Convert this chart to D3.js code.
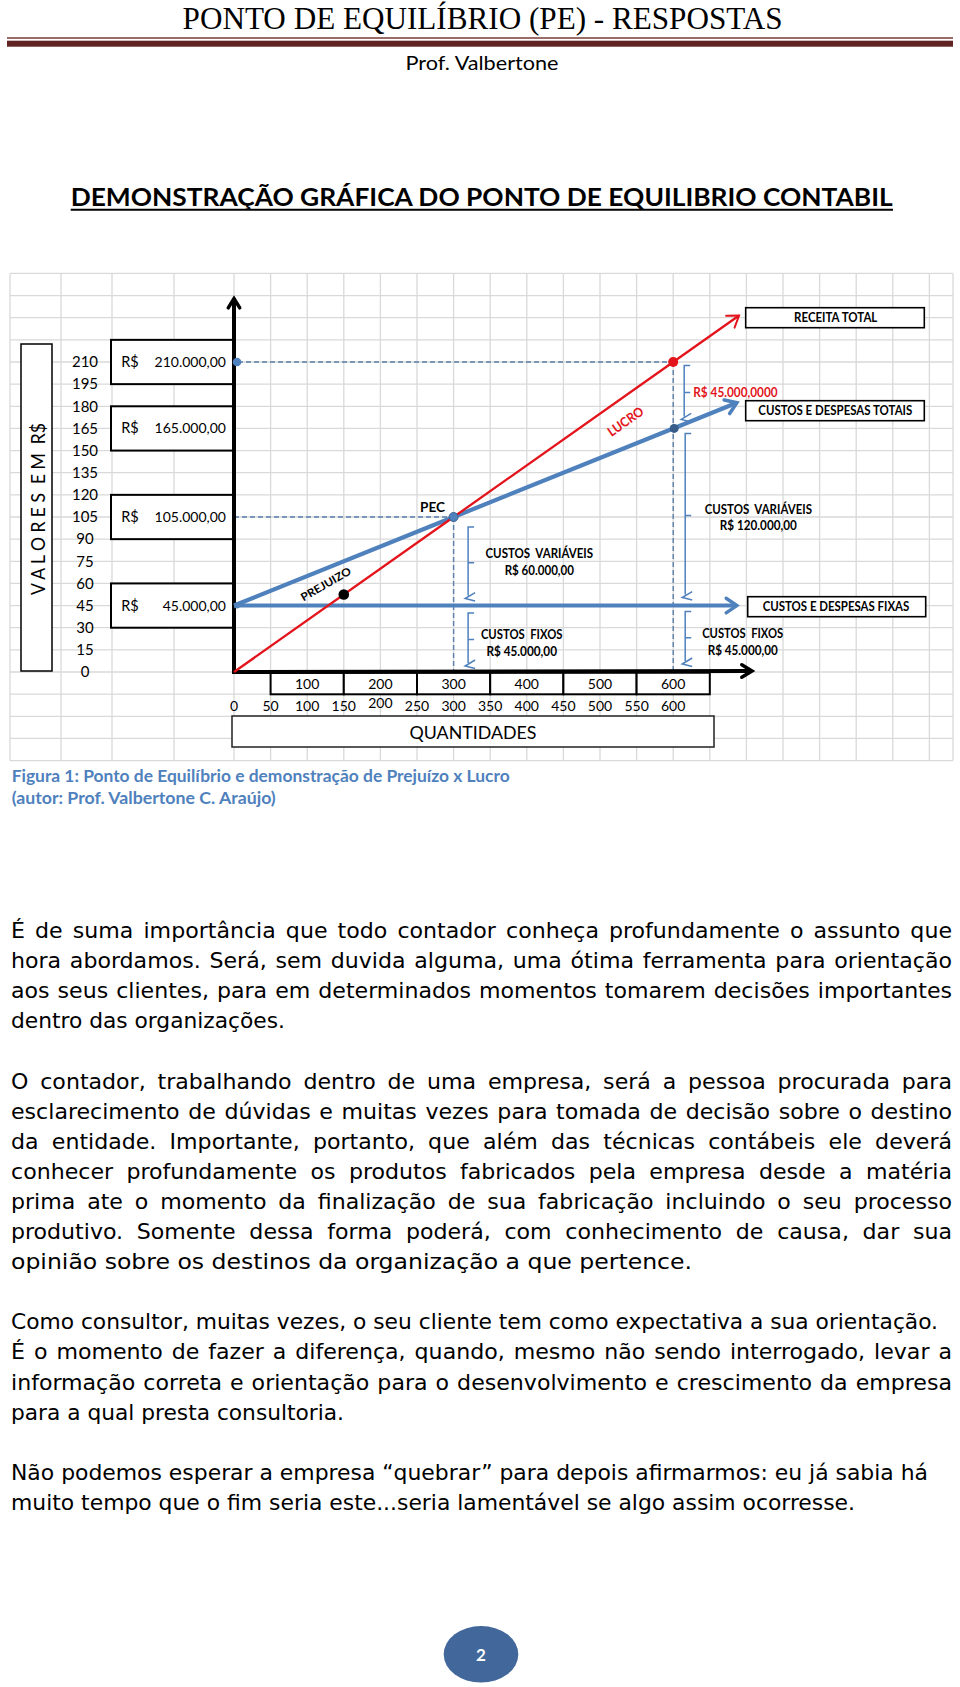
<!DOCTYPE html>
<html><head><meta charset="utf-8">
<script src="https://cdn.jsdelivr.net/npm/d3@7"></script>
<style>html,body{margin:0;padding:0;background:#fff;}svg{display:block}text{white-space:pre}</style>
</head><body><svg id="c" width="960" height="1687"></svg>
<script>
// ---------------- DATA ----------------
const valueTicks = [210,195,180,165,150,135,120,105,90,75,60,45,30,15,0];
const valueBoxes = [210,165,105,45];
const valueBoxLabels = ["210.000,00","165.000,00","105.000,00","45.000,00"];
const quantityTicks = [0,50,100,150,200,250,300,350,400,450,500,550,600];
const quantityBoxes = [100,200,300,400,500,600];
const revenueLine = [[0,0],[300,105],[600,210],[690,241.5]];
const totalCostLine = [[0,45],[300,105],[600,165],[687,182.4]];
const fixedCostLine = [[0,45],[300,45],[600,45],[687,45]];
const pecPoint = [300,105];
const revenuePoint = [600,210];
const totalCostPoint = [600,165];
const lossPoint = [150,52.5];
const axisDots = [[0,210],[0,45]];

const title = "PONTO DE EQUILÍBRIO (PE) - RESPOSTAS";
const author = "Prof. Valbertone";
const heading = "DEMONSTRAÇÃO GRÁFICA DO PONTO DE EQUILIBRIO CONTABIL";
const yTitle = "V A L O R E S  E M  R$";
const xTitle = "QUANTIDADES";
const caption = ["Figura 1: Ponto de Equilíbrio e demonstração de Prejuízo x Lucro","(autor: Prof. Valbertone C. Araújo)"];

const paragraph1 = [
 ["É de suma importância que todo contador conheça profundamente o assunto que","j"],
 ["hora abordamos. Será, sem duvida alguma, uma ótima ferramenta para orientação","j"],
 ["aos seus clientes, para em determinados momentos tomarem decisões importantes","j"],
 ["dentro das organizações.",274]];
const paragraph2 = [
 ["O contador, trabalhando dentro de uma empresa, será a pessoa procurada para","j"],
 ["esclarecimento de dúvidas e muitas vezes para tomada de decisão sobre o destino","j"],
 ["da entidade. Importante, portanto, que além das técnicas contábeis ele deverá","j"],
 ["conhecer profundamente os produtos fabricados pela empresa desde a matéria","j"],
 ["prima ate o momento da finalização de sua fabricação incluindo o seu processo","j"],
 ["produtivo. Somente dessa forma poderá, com conhecimento de causa, dar sua","j"],
 ["opinião sobre os destinos da organização a que pertence.",681]];
const paragraph3 = [
 ["Como consultor, muitas vezes, o seu cliente tem como expectativa a sua orientação.",927],
 ["É o momento de fazer a diferença, quando, mesmo não sendo interrogado, levar a","j"],
 ["informação correta e orientação para o desenvolvimento e crescimento da empresa","j"],
 ["para a qual presta consultoria.",333]];
const paragraph4 = [
 ["Não podemos esperar a empresa “quebrar” para depois afirmarmos: eu já sabia há",917],
 ["muito tempo que o fim seria este...seria lamentável se algo assim ocorresse.",844]];

// ---------------- SETUP ----------------
const svg = d3.select('#c');
const x = d3.scaleLinear().domain([0,600]).range([234,673.2]);
const y = d3.scaleLinear().domain([0,210]).range([672,362]);
const BLUE = "#4f81bd", RED = "#e3141b", GRID = "#d9d9d9";

function T(s, px, py, o={}) {
  const t = svg.append('text').attr('x',px).attr('y',py).text(s)
    .style('font-family', o.ff || 'Lato, sans-serif')
    .style('font-size', (o.fs||14)+'px')
    .style('font-weight', o.fw||400)
    .attr('fill', o.fill||'#000')
    .attr('text-anchor', o.a||'start');
  if (o.stretch) t.style('font-stretch', o.stretch);
  if (o.w) t.attr('textLength', o.w).attr('lengthAdjust', o.adj||'spacingAndGlyphs');
  if (o.rot) t.attr('transform', `rotate(${o.rot},${o.cx??px},${o.cy??py})`);
  return t;
}
function L(x1,y1,x2,y2,stroke,w,extra){
  const l = svg.append('line').attr('x1',x1).attr('y1',y1).attr('x2',x2).attr('y2',y2)
    .attr('stroke',stroke).attr('stroke-width',w);
  if(extra) extra(l);
  return l;
}
function R(x0,y0,w,h,stroke,sw){
  return svg.append('rect').attr('x',x0).attr('y',y0).attr('width',w).attr('height',h)
    .attr('fill','#fff').attr('stroke',stroke).attr('stroke-width',sw);
}
function arrowHead(px,py,ang,len,spread,stroke,w){
  const a1 = ang+Math.PI-spread, a2 = ang+Math.PI+spread;
  svg.append('path')
    .attr('d',`M${px+len*Math.cos(a1)},${py+len*Math.sin(a1)}L${px},${py}L${px+len*Math.cos(a2)},${py+len*Math.sin(a2)}`)
    .attr('fill','none').attr('stroke',stroke).attr('stroke-width',w)
    .attr('stroke-linecap','round').attr('stroke-linejoin','miter');
}

// ---------------- HEADER ----------------
T(title, 482.6, 29.3, {ff:'"Liberation Serif", serif', fs:32, a:'middle', w:600});
L(7,38,953,38,"#7a3a38",1.5);
svg.append('rect').attr('x',7).attr('y',40.7).attr('width',946).attr('height',6).attr('fill','#622423');
T(author, 482, 69.5, {fs:20, a:'middle', w:153});
T(heading, 70.7, 206, {fs:24.5, fw:700, w:822});
L(70.7,209.8,893,209.8,"#000",2);

// ---------------- GRID ----------------
const gTop = y(270), gBot = y(-60);
d3.range(-60,271,15).forEach(v => L(10,y(v),953,y(v),GRID,1.3));
const colX = [10,61,112,174].concat(d3.range(0,951,50).map(q=>x(q))).concat([953]);
colX.forEach(cx => L(cx,gTop,cx,gBot,GRID,1.3));

// ---------------- Y TITLE ----------------
R(21,344,31,327,"#000",1.5);
T(yTitle, 44.5, 509, {fs:19, a:'middle', w:172, rot:-90});

// y tick labels
valueTicks.forEach(v => T(String(v), 85, y(v)+5.3, {fs:15, a:'middle'}));

// value boxes
valueBoxes.forEach((v,i) => {
  R(111, y(v+15), 122, y(v-15)-y(v+15), "#000", 2);
  T("R$", 130, y(v)+5, {fs:14.5, a:'middle'});
  T(valueBoxLabels[i], 226, y(v)+5, {fs:14, a:'end'});
});

// ---------------- DASHED GUIDES ----------------
const dash = l => l.attr('stroke-dasharray','5,3');
L(x(0)+4,y(210),x(600),y(210),"#5a7fab",1.4,dash);
L(x(0),y(105),x(300),y(105),"#5a7fab",1.4,dash);
L(x(300),y(105),x(300),y(0),"#5a7fab",1.4,dash);
L(x(600),y(210),x(600),y(0),"#5a7fab",1.4,dash);

// ---------------- QUANTITY BOXES ----------------
quantityBoxes.forEach(q => {
  R(x(q-50), 672.7, x(q+50)-x(q-50), 21.6, "#000", 2);
  T(String(q), x(q), 688.5, {fs:14, a:'middle'});
});
quantityTicks.forEach(q => T(String(q), x(q), q===200?708:710.5, {fs:14, a:'middle'}));
R(232,716,482,31,"#222",1.5);
T(xTitle, 473, 739, {fs:18, a:'middle', w:127});

// ---------------- AXES ----------------
L(x(0),y(0)+2,x(0),298.5,"#000",4);
arrowHead(x(0),298.5,-Math.PI/2,11,0.55,"#000",3.5);
L(x(0)-2,y(0),752,y(0)-1,"#000",4);
arrowHead(752,y(0)-1,0,12,0.55,"#000",3.5);

// ---------------- BRACKETS ----------------
const brackets = [
  {q:300, top:105, bottom:45, dx:14.5, pt:10, pb:7},
  {q:300, top:45, bottom:0, dx:14.5, pt:7.5, pb:6},
  {q:600, top:210, bottom:165, dx:11, pt:3.5, pb:9},
  {q:600, top:165, bottom:45, dx:12, pt:5, pb:8},
  {q:600, top:45, bottom:0, dx:12, pt:6, pb:8}
];
brackets.forEach(b => {
  const bx = x(b.q)+b.dx, t = y(b.top)+b.pt, bt = y(b.bottom)-b.pb, m=(t+bt)/2;
  svg.append('path')
    .attr('d',`M${bx+6},${t}L${bx},${t}L${bx},${bt-3}M${bx},${m}L${bx+6},${m}M${bx+7},${bt-6}L${bx-3},${bt}L${bx+7},${bt+2.5}`)
    .attr('fill','none').attr('stroke',BLUE).attr('stroke-width',1.5);
});

// ---------------- LINES ----------------
const line = d3.line().x(d=>x(d[0])).y(d=>y(d[1]));
function drawLine(data, color, w, arrowLen){
  svg.append('path').datum(data).attr('d',line).attr('fill','none')
    .attr('stroke',color).attr('stroke-width',w).attr('stroke-linecap','butt');
  const a = data[data.length-2], b = data[data.length-1];
  const ang = Math.atan2(y(b[1])-y(a[1]), x(b[0])-x(a[0]));
  arrowHead(x(b[0]),y(b[1]),ang,arrowLen,0.6,color,w*0.85);
}
drawLine(fixedCostLine, BLUE, 4, 13);
drawLine(totalCostLine, BLUE, 4.2, 13);
drawLine(revenueLine, RED, 2.3, 13);

// ---------------- POINTS ----------------
axisDots.forEach(d => svg.append('circle').attr('cx',x(d[0])+3).attr('cy',y(d[1])).attr('r',d[1]===210?4.3:3).attr('fill',BLUE));
svg.append('circle').attr('cx',x(pecPoint[0])).attr('cy',y(pecPoint[1])).attr('r',4.5).attr('fill',BLUE).attr('stroke','#3a6496').attr('stroke-width',1);
svg.append('circle').attr('cx',x(revenuePoint[0])).attr('cy',y(revenuePoint[1])).attr('r',5).attr('fill',RED);
svg.append('circle').attr('cx',x(totalCostPoint[0])+1).attr('cy',y(totalCostPoint[1])).attr('r',4.5).attr('fill','#385d8a');
svg.append('circle').attr('cx',x(lossPoint[0])).attr('cy',y(lossPoint[1])).attr('r',5.3).attr('fill','#000');

// ---------------- CHART LABELS ----------------
T("PEC", 432.5, 512.3, {fs:14, fw:700, a:'middle', w:25});
T("PREJUIZO", 326, 588, {fs:11, fw:700, a:'middle', w:56, rot:-30, cx:326, cy:584.3});
T("LUCRO", 625.7, 426, {fs:13, fw:700, a:'middle', w:40.7, fill:RED, rot:-35, cx:625.7, cy:421.7});
T("CUSTOS  VARIÁVEIS", 539.3, 558, {fs:13, fw:700, a:'middle', w:107.6});
T("R$ 60.000,00", 539.3, 575, {fs:13, fw:700, a:'middle', w:69.3});
T("CUSTOS  FIXOS", 521.7, 639, {fs:13, fw:700, a:'middle', w:81.6});
T("R$ 45.000,00", 521.7, 655.7, {fs:13, fw:700, a:'middle', w:70.6});
T("CUSTOS  VARIÁVEIS", 758.3, 513.7, {fs:13, fw:700, a:'middle', w:107.3});
T("R$ 120.000,00", 758.3, 530.4, {fs:13, fw:700, a:'middle', w:77});
T("CUSTOS  FIXOS", 742.7, 638, {fs:13, fw:700, a:'middle', w:81});
T("R$ 45.000,00", 742.7, 654.7, {fs:13, fw:700, a:'middle', w:70});
T("R$ 45.000,0000", 693.3, 397.4, {fs:13, fw:700, w:84.3, fill:RED});

R(745.7,307.7,178.6,20,"#000",1.6);
T("RECEITA TOTAL", 835.7, 322.4, {fs:13, fw:700, a:'middle', w:83.3});
R(745.7,400.7,178.6,20,"#000",1.6);
T("CUSTOS E DESPESAS TOTAIS", 835.3, 415.4, {fs:13, fw:700, a:'middle', w:154});
R(747.7,596.7,178,20,"#000",1.6);
T("CUSTOS E DESPESAS FIXAS", 836, 611.4, {fs:13, fw:700, a:'middle', w:146.7});

// ---------------- CAPTION ----------------
T(caption[0], 11.7, 781.5, {fs:17, fw:700, fill:BLUE, w:498});
T(caption[1], 11.7, 804, {fs:17, fw:700, fill:BLUE, w:264});

// ---------------- PARAGRAPHS ----------------
const PX = 11, PR = 952, PITCH = 30.1, PFONT = '"DejaVu Sans Condensed","DejaVu Sans",sans-serif';
const allParas = [[paragraph1,938],[paragraph2,938+PITCH*5],[paragraph3,938+PITCH*13],[paragraph4,938+PITCH*18]];
// draw all lines, measure natural widths
const drawn = [];
allParas.forEach(([lines, base]) => lines.forEach((ln,i) => {
  const t = T(ln[0], PX, base+i*PITCH, {ff:PFONT, fs:20.5, stretch:'condensed'});
  drawn.push({t, ln, nat:t.node().getComputedTextLength()});
}));
// glyph scale from the non-justified lines
const ratios = drawn.filter(d=>d.ln[1]!=='j').map(d=>d.ln[1]/d.nat);
const g = d3.mean(ratios);
drawn.forEach(d => {
  if (d.ln[1] === 'j') {
    const n = (d.ln[0].match(/ /g)||[]).length;
    const ws = ((PR-PX)/g - d.nat)/n;
    d.t.style('word-spacing', ws+'px');
    d.t.attr('textLength', PR-PX).attr('lengthAdjust','spacingAndGlyphs');
  } else {
    d.t.attr('textLength', d.ln[1]).attr('lengthAdjust','spacingAndGlyphs');
  }
});

// ---------------- PAGE NUMBER ----------------
svg.append('ellipse').attr('cx',481).attr('cy',1654.3).attr('rx',37.3).attr('ry',28.3).attr('fill','#41679b');
T("2", 481, 1660.5, {fs:17, fw:700, a:'middle', fill:'#fff'});
</script></body></html>
